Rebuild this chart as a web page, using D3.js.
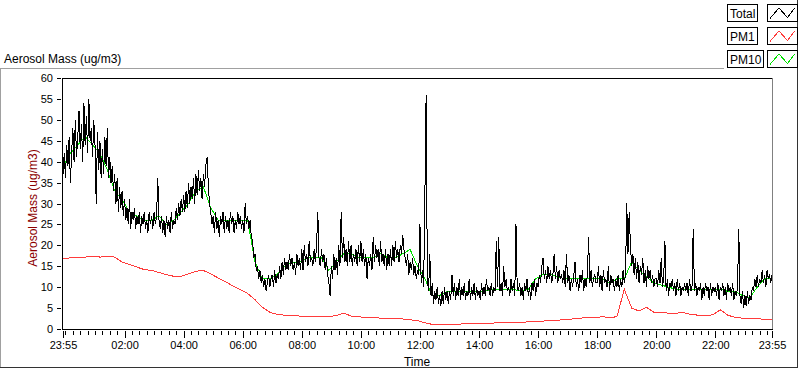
<!DOCTYPE html>
<html>
<head>
<meta charset="utf-8">
<script src="https://cdn.jsdelivr.net/npm/d3@7"></script>
<style>
  body { margin: 0; background: #fff; }
  svg { display: block; font-family: "Liberation Sans", Arial, sans-serif; }
</style>
</head>
<body>
<div class="chart"></div>
<script>
// Data (ug/m3)
const startTime = new Date(2000, 0, 1, 23, 55);
const endTime = new Date(2000, 0, 2, 23, 55);

// Total: one value every 150 s from 23:55 (one row per hour)
const totalStepSec = 150;
const totalMass = [
  37,42,
  36,44,39,46,35,42,48,40,50,41,46,52,43,49,40,54,44,51,42,55,45,48,41,50,
  44,30,47,38,45,36,43,37,46,39,48,36,41,35,39,33,37,30,36,28,34,29,33,27,
  31,26,29,25,31,24,28,26,29,24,27,25,28,23,27,25,28,24,26,23,28,25,27,24,
  28,25,27,36,26,24,27,23,26,22,27,24,26,23,28,24,26,25,29,26,30,27,31,28,
  32,28,33,29,35,30,34,31,36,30,37,32,38,33,36,31,37,34,39,41,35,30,28,25,
  27,23,28,24,26,22,27,25,28,23,27,24,26,23,28,25,27,23,26,24,28,25,27,24,
  26,23,30,25,27,24,26,22,21,17,18,14,15,12,14,11,13,10,12,9,11,13,10,12,
  13,10,14,11,13,12,15,12,16,13,17,14,16,14,18,15,17,14,16,13,18,15,17,14,
  19,14,20,16,18,15,21,16,17,15,19,16,20,28,17,15,19,16,18,14,17,13,11,8,
  15,12,18,14,17,13,20,15,28,17,22,16,19,15,21,16,20,15,18,16,19,15,20,16,
  21,16,19,15,18,12,17,15,18,14,22,16,20,17,19,15,21,16,18,15,19,14,18,15,
  19,15,20,16,21,17,19,16,20,18,22.5,19,17,15,18,13,16,14,17,13,15,12,14,13,
  25,11,14,10,32,56,12,9,18,8,11,6,9,7,10,6,8,5.5,9,6,10,7,9,6,
  9,7,13,8,11,7,10,8,12,7,10,8,11,7,9,8,12,7,10,8,11,7,10,8,
  9,7,11,8,10,8,12,9,10,8,11,8,10,9,21,10,22,9,11,8,15,10,12,9,
  10,8,12,9,11,8,25,10,9,11,8,10,7,11,9,12,8,10,7,11,9,12,8,11,
  10,13,11,15,17,12,14,11,15,12,14,11,13,18,12,15,11,14,12,13,11,14,10,18,
  11,13,9,12,10,13,16,10,12,9,13,11,14,9,12,10,13,22,11,14,10,12,13,11,
  11,15,10,13,9,14,11,12,10,15,9,13,11,12,9,12,10,13,9,12,10,14,11,13,
  30,18,28,20,15,18,13,17,12,16,11,15,13,17,11,14,10,15,12,14,11,13,10,12,
  12,10,14,11,17,10,12,21,9,12,8,11,10,12,9,11,8,12,9,11,8,10,9,11,
  9,11,8,12,9,10,24,9,11,8,10,9,11,7,10,8,11,9,10,7,11,8,10,9,
  10,8,11,7,10,9,11,8,10,7,11,9,10,8,11,7,9,8,10,24,8,6,9,5,
  8,5.5,9,6,8,7,10,9,12,10,13,10,12,11,14,11,13,10,14,12,13,11,13
];

// PM10 and PM1: one value every 15 minutes from 23:55
const pmStepSec = 900;
const pm10Mass = [
  39,42,44,46,44,42,38,33,31,28,
  27,26,26,27,25,26,28,30,33,34,
  29,26,26,26,26,26,16,12,12,13,
  15,16,16,17,17,17,14,16,18,18,
  17,17,17,18,17,17,18,19,15,12,
  8,8,9,9,9,9,9,9,9.5,9.5,
  9.5,9.5,9,9.5,12,13,13,12.5,12,12,
  12,12,12,12,11,12,12,16,14,12.5,
  11,10.5,10,9.5,9.5,9.5,9.5,9.5,9.5,9.5,
  9,9,8,7.5,10,12,12
];
const pm1Mass = [
  16.8,17.0,17.2,17.2,17.4,17.2,17.3,17.2,
  16.0,15.4,14.8,14.2,14.0,13.5,13.0,12.6,
  12.6,13.2,13.8,14.0,13.2,12.2,11.3,10.3,
  9.4,8.5,7.0,5.2,4.0,3.5,3.3,3.2,
  3.1,3.0,3.0,2.9,3.0,3.2,3.8,3.1,
  2.9,2.8,2.7,2.6,2.5,2.5,2.4,2.2,
  2.0,1.5,1.1,1.0,1.0,1.1,1.2,1.3,
  1.3,1.4,1.4,1.5,1.5,1.6,1.6,1.7,
  1.8,1.9,2.0,2.1,2.3,2.4,2.6,2.7,
  2.8,2.9,2.8,2.9,9.5,5.0,4.3,5.2,
  4.0,3.9,3.8,3.8,3.9,3.5,3.3,3.2,
  3.4,4.6,3.3,2.8,2.6,2.5,2.5,2.3,
  2.3
];

const seriesNames = ['Total', 'PM1', 'PM10'];
const yTickValues = [0, 5, 10, 15, 20, 25, 30, 35, 40, 45, 50, 55, 60];
const labelHours = [2, 4, 6, 8, 10, 12, 14, 16, 18, 20, 22];

const colors = { Total: '#000000', PM1: '#ff3b3b', PM10: '#00e000' };

// Taille du dessin
const width = 800, height = 369;
const svg = d3.select('.chart')
  .append('svg')
  .attr('width', width)
  .attr('height', height);

const x = d3.scaleTime().domain([startTime, endTime]).range([63, 772]);
const y = d3.scaleLinear().domain([0, 60]).range([329, 78]);

// panel frame
const frame = svg.append('g').attr('shape-rendering', 'crispEdges');
frame.append('path').attr('d', 'M0.5,367 V68.5 H724').attr('fill', 'none').attr('stroke', '#a0a0a0');
frame.append('path').attr('d', 'M0,367.5 H797.5 V0').attr('fill', 'none').attr('stroke', '#333');

svg.append('text')
  .attr('x', 4).attr('y', 62.5)
  .style('font-size', '12px')
  .text('Aerosol Mass (ug/m3)');

// clip for data
svg.append('clipPath').attr('id', 'plot-clip')
  .append('rect').attr('x', 63).attr('y', 78).attr('width', 709).attr('height', 252);

const series = [
  { name: 'PM1', values: pm1Mass, step: pmStepSec },
  { name: 'PM10', values: pm10Mass, step: pmStepSec },
  { name: 'Total', values: totalMass, step: totalStepSec }
];

const line = d3.line()
  .x(d => x(d.t))
  .y(d => y(d.v));

svg.append('g')
  .attr('clip-path', 'url(#plot-clip)')
  .selectAll('path')
  .data(series)
  .join('path')
  .attr('fill', 'none')
  .attr('stroke', d => colors[d.name])
  .attr('stroke-width', 1)
  .attr('shape-rendering', 'crispEdges')
  .attr('d', d => line(d.values.map((v, i) => ({ t: d3.timeSecond.offset(startTime, i * d.step), v }))));

// plot border
frame.append('path').attr('d', 'M62.5,330 V78.5 H772').attr('fill', 'none').attr('stroke', '#000');
frame.append('path').attr('d', 'M772.5,78 V330').attr('fill', 'none').attr('stroke', '#808080');
frame.append('path').attr('d', 'M62,329.5 H773').attr('fill', 'none').attr('stroke', '#000');

// y axis
const yAxis = svg.append('g')
  .attr('transform', 'translate(61,0)')
  .call(d3.axisLeft(y).tickValues(yTickValues).tickSize(4).tickPadding(4));
yAxis.select('.domain').remove();

// x axis: minor every 15 min, labelled every 2 hours
const minorTicks = d3.timeMinute.every(15).range(d3.timeMinute.offset(startTime, 5), endTime);
const majorTicks = [startTime, ...labelHours.map(h => new Date(2000, 0, 2, h, 0)), endTime];

const xMinor = svg.append('g')
  .attr('transform', 'translate(0,331)')
  .call(d3.axisBottom(x).tickValues(minorTicks).tickSize(4).tickFormat(''));
xMinor.select('.domain').remove();

const xMajor = svg.append('g')
  .attr('transform', 'translate(0,331)')
  .call(d3.axisBottom(x).tickValues(majorTicks).tickSize(7).tickPadding(3).tickFormat(d3.timeFormat('%H:%M')));
xMajor.select('.domain').remove();

svg.selectAll('.tick text').style('font-size', '11px').attr('fill', '#000');
svg.selectAll('.tick line').attr('stroke', '#000').attr('shape-rendering', 'crispEdges');

svg.append('text')
  .attr('x', 417).attr('y', 365.5)
  .attr('text-anchor', 'middle')
  .style('font-size', '12px')
  .text('Time');

svg.append('text')
  .attr('transform', 'translate(37,208) rotate(-90)')
  .attr('text-anchor', 'middle')
  .attr('fill', '#8c0000')
  .style('font-size', '12px')
  .text('Aerosol Mass (ug/m3)');

// legend
const legend = svg.append('g').attr('shape-rendering', 'crispEdges');
const legendTops = [4.5, 27.5, 50.5];
seriesNames.forEach((name, i) => {
  const g = legend.append('g').attr('transform', `translate(727.5,${legendTops[i]})`);
  const label = g.append('text')
    .attr('x', 2.5).attr('y', 13)
    .style('font-size', '12px')
    .text(name);
  const w = label.node().getComputedTextLength() + 5;
  g.insert('rect', 'text')
    .attr('width', w).attr('height', 17)
    .attr('fill', '#fff').attr('stroke', '#000');
  g.append('rect')
    .attr('x', 39.5).attr('width', 30).attr('height', 17)
    .attr('fill', '#fff').attr('stroke', '#000');
  g.append('path')
    .attr('d', 'M42.5,14 L51.5,3.5 L60,13 L67,3.5')
    .attr('fill', 'none')
    .attr('stroke', colors[name]);
});
</script>
</body>
</html>
